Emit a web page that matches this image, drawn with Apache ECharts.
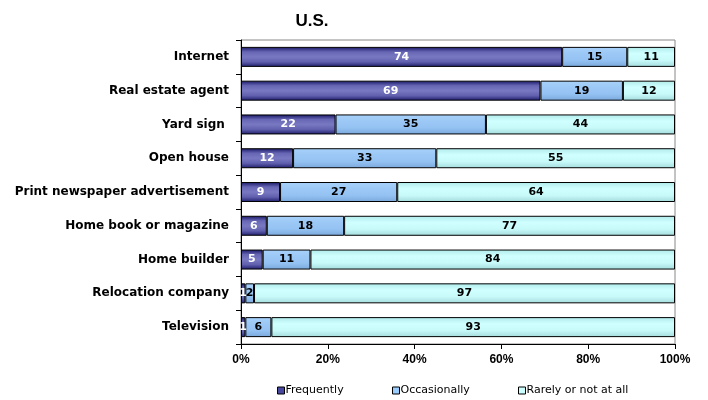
<!DOCTYPE html>
<html>
<head>
<meta charset="utf-8">
<script src="https://cdn.jsdelivr.net/npm/echarts@6/dist/echarts.min.js"></script>
<style>
  html, body { margin: 0; padding: 0; background: #fff; }
  #chart { width: 708px; height: 400px; }
</style>
</head>
<body>
<div id="chart"></div>
<script>
const categories = ['Internet', 'Real estate agent', 'Yard sign ', 'Open house',
  'Print newspaper advertisement', 'Home book or magazine', 'Home builder',
  'Relocation company', 'Television']
const frequently = [74, 69, 22, 12, 9, 6, 5, 1, 1]
const occasionally = [15, 19, 35, 33, 27, 18, 11, 2, 6]
const rarely = [11, 12, 44, 55, 64, 77, 84, 97, 93]
const xTicks = [0, 20, 40, 60, 80, 100]

// 100% stacked: scale each row by its own total
const totals = categories.map((c, i) => frequently[i] + occasionally[i] + rarely[i])
const toPct = arr => arr.map((v, i) => v / totals[i] * 100)

const grad = stops => new echarts.graphic.LinearGradient(0, 0, 0, 1,
  stops.map((c, i) => ({ offset: i / (stops.length - 1), color: c })))

// the reference text is a bit wide, DejaVu fits its widths better than Arial
const font = '"DejaVu Sans", Arial, sans-serif'
const arial = '"Liberation Sans", Arial, sans-serif'

const makeSeries = (name, raw, fill, labelColor) => ({
  name,
  type: 'bar',
  stack: 'all',
  barWidth: 20,
  data: toPct(raw),
  itemStyle: { color: fill, borderColor: '#000', borderWidth: 1 },
  label: {
    show: true,
    position: 'inside',
    color: labelColor,
    fontFamily: font,
    fontWeight: 'bold',
    fontSize: 11,
    formatter: p => raw[p.dataIndex]
  },
  emphasis: { disabled: true }
})

const legendBase = {
  top: 380,
  icon: 'rect',
  itemWidth: 7,
  itemHeight: 7,
  itemGap: 0,
  textStyle: { fontFamily: font, fontSize: 11, color: '#000', padding: [0, 0, 0, -4] },
  itemStyle: { borderColor: '#000', borderWidth: 1 }
}

const chart = echarts.init(document.getElementById('chart'))
chart.setOption({
  animation: false,
  backgroundColor: '#fff',
  title: {
    text: 'U.S.',
    left: 307,
    top: 8,
    textAlign: 'center',
    textStyle: { fontFamily: arial, fontWeight: 'bold', fontSize: 17, color: '#000' }
  },
  legend: [
    Object.assign({}, legendBase, { left: 272, data: [{ name: 'Frequently', itemStyle: { color: '#4848a0' } }] }),
    Object.assign({}, legendBase, { left: 387, data: [{ name: 'Occasionally', itemStyle: { color: '#99ccff' } }] }),
    Object.assign({}, legendBase, { left: 513, data: [{ name: 'Rarely or not at all', itemStyle: { color: '#ccffff' } }] })
  ],
  grid: {
    left: 241, right: 33, top: 40, bottom: 56,
    show: true, borderColor: '#888', borderWidth: 1, containLabel: false
  },
  xAxis: {
    type: 'value',
    min: 0,
    max: 100,
    interval: 20,
    axisLine: { show: true, lineStyle: { color: '#000' } },
    axisTick: { show: true, length: 5, lineStyle: { color: '#000' } },
    splitLine: { show: false },
    axisLabel: {
      fontFamily: arial, fontWeight: 'bold', fontSize: 12, color: '#000', margin: 10,
      formatter: v => xTicks.includes(v) ? v + '%' : ''
    }
  },
  yAxis: {
    type: 'category',
    inverse: true,
    data: categories,
    axisLine: { show: true, lineStyle: { color: '#000' } },
    axisTick: { show: true, length: 5, lineStyle: { color: '#000' } },
    axisLabel: { fontFamily: font, fontWeight: 'bold', fontSize: 12, color: '#000', margin: 12 }
  },
  series: [
    makeSeries('Frequently', frequently, grad(['#141462', '#6666b4', '#7878c2', '#6060ae', '#1c1c6c']), '#fff'),
    makeSeries('Occasionally', occasionally, grad(['#a8d2fa', '#9cc8f6', '#94c2f2', '#7aa8dc']), '#000'),
    makeSeries('Rarely or not at all', rarely, grad(['#b0eaea', '#d0ffff', '#c8fafa', '#a4dcdc']), '#000')
  ]
})
</script>
</body>
</html>
